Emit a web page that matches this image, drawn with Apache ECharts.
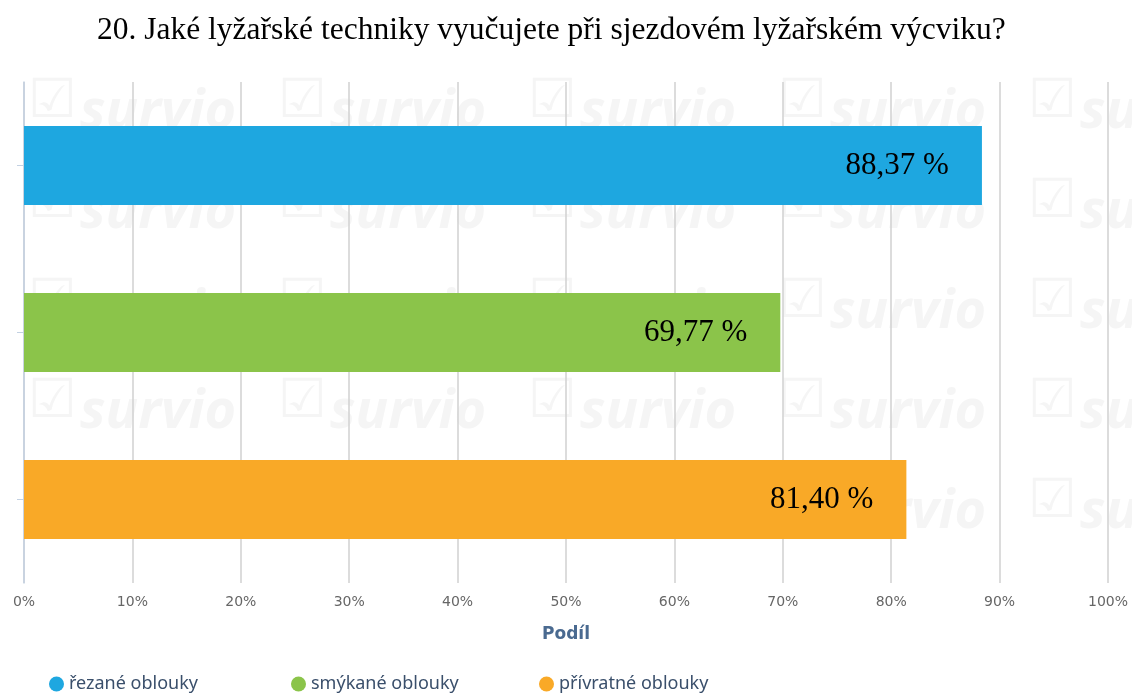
<!DOCTYPE html>
<html>
<head>
<meta charset="utf-8">
<script src="https://cdn.jsdelivr.net/npm/echarts@6/dist/echarts.min.js"></script>
<style>
  html, body { margin: 0; padding: 0; background: #fff; }
  #chart { width: 1132px; height: 698px; }
</style>
</head>
<body>
<div id="chart"></div>
<script>
var titleText = '20. Jaké lyžařské techniky vyučujete při sjezdovém lyžařském výcviku?';
var categories = ['řezané oblouky', 'smýkané oblouky', 'přívratné oblouky'];
var shares = [88.37, 69.77, 81.40];
var colors = ['#1ea7e0', '#8bc44a', '#f9a927'];

var chart = echarts.init(document.getElementById('chart'));

// one series per category so the legend shows each one
var series = categories.map(function (name, i) {
    var data = categories.map(function (c, j) { return j === i ? shares[i] : '-'; });
    return {
        name: name,
        type: 'bar',
        data: data,
        barWidth: 79,
        barGap: '-100%',
        itemStyle: { color: colors[i] },
        label: {
            show: true,
            position: 'insideRight',
            distance: 33,
            color: '#000',
            fontFamily: 'Liberation Serif',
            fontSize: 31,
            formatter: function (p) { return p.value.toFixed(2).replace('.', ',') + ' %'; }
        }
    };
});

// legend items sit on a fixed pitch, so one legend per item
var legendLeft = [44, 286, 534];
var legends = categories.map(function (name, i) {
    return {
        data: [name],
        left: legendLeft[i],
        bottom: 0,
        icon: 'circle',
        itemWidth: 15,
        itemHeight: 15,
        textStyle: { fontFamily: 'Noto Sans', fontSize: 18, color: '#3a4f6b' }
    };
});

// faint "survio" watermark behind the plot
var watermark = [];
for (var r = 0; r < 5; r++) {
    for (var c = 0; c < 5; c++) {
        var bx = 32 + c * 250, by = 128 + r * 100;
        watermark.push({
            type: 'text', silent: true, z: -10,
            style: { text: '\u2611', x: bx - 4, y: by + 2, verticalAlign: 'bottom',
                     font: 'bold 54px "DejaVu Sans"', fill: '#f5f5f5' }
        });
        watermark.push({
            type: 'text', silent: true, z: -10,
            style: { text: 'survio', x: bx + 48, y: by + 12, verticalAlign: 'bottom',
                     font: 'italic bold 54px "Open Sans"', fill: '#f5f5f5' }
        });
    }
}

chart.setOption({
    animation: false,
    graphic: { elements: watermark },
    title: {
        text: titleText,
        left: 92,
        top: 10,
        textStyle: { fontFamily: 'Liberation Serif', fontSize: 31.5, fontWeight: 'normal', color: '#000' }
    },
    legend: legends,
    grid: { left: 24, right: 24, top: 82, bottom: 115 },
    xAxis: {
        type: 'value',
        min: 0,
        max: 100,
        interval: 10,
        name: 'Podíl',
        nameLocation: 'middle',
        nameGap: 43,
        nameTextStyle: { fontFamily: 'DejaVu Sans', fontSize: 17, fontWeight: 'bold', color: '#4a6a90' },
        axisLine: { show: false },
        axisTick: { show: false },
        axisLabel: { formatter: '{value}%', fontFamily: 'DejaVu Sans', fontSize: 14, color: '#666', margin: 12 },
        splitLine: { lineStyle: { color: '#d0d0d0', width: 1.5 } }
    },
    yAxis: {
        type: 'category',
        data: categories,
        inverse: true,
        axisLine: { show: true, lineStyle: { color: '#c3d1e2', width: 1.5 } },
        axisTick: { show: true, alignWithLabel: true, length: 7, lineStyle: { color: '#c3d1e2' } },
        axisLabel: { show: false }
    },
    series: series
});
</script>
</body>
</html>
